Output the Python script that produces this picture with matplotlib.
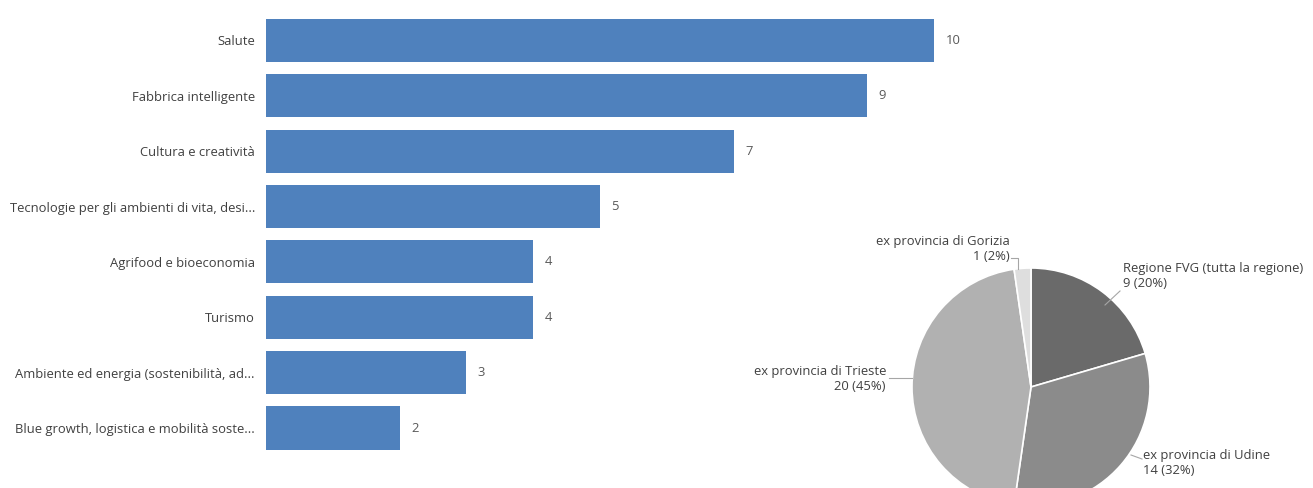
import matplotlib
matplotlib.use("Agg")
import matplotlib.pyplot as plt
import numpy as np

plt.rcParams['font.family'] = ['Open Sans', 'DejaVu Sans']

categories = ["Salute", "Fabbrica intelligente", "Cultura e creatività",
              "Tecnologie per gli ambienti di vita, desi...", "Agrifood e bioeconomia",
              "Turismo", "Ambiente ed energia (sostenibilità, ad...",
              "Blue growth, logistica e mobilità soste..."]
values = [10, 9, 7, 5, 4, 4, 3, 2]

pie_labels = ["Regione FVG (tutta la regione)", "ex provincia di Udine",
              "ex provincia di Trieste", "ex provincia di Gorizia"]
pie_values = [9, 14, 20, 1]
pie_pcts = ["20%", "32%", "45%", "2%"]

W, H = 1313, 488
fig = plt.figure(figsize=(W / 100, H / 100), dpi=100)

fs = 9.4

# Bar chart
ax = fig.add_axes([266 / W, (H - 455.7) / H, 735 / W, 443 / H])
y = np.arange(len(categories))
ax.barh(y, values, height=0.78, color="#4f81bd")
ax.set_xlim(0, 11)
ax.set_ylim(len(categories) - 0.5, -0.5)
ax.set_yticks(y)
ax.set_yticklabels(categories, fontsize=fs, color="#404040")
ax.tick_params(axis='y', length=0, pad=8)
ax.set_xticks([])
for s in ax.spines.values():
    s.set_visible(False)
for yi, v in zip(y, values):
    ax.text(v + 0.17, yi, str(v), va='center', ha='left', fontsize=fs, color="#595959")

# Pie chart
R = 119
cx, cy = 1031, 387
pax = fig.add_axes([(cx - R) / W, (H - cy - R) / H, 2 * R / W, 2 * R / H])
colors = ["#6a6a6a", "#8b8b8b", "#b1b1b1", "#dedede"]
pax.pie(pie_values, colors=colors, startangle=90, counterclock=False,
        wedgeprops=dict(edgecolor="white", linewidth=1.2), radius=1)
pax.set_xlim(-1, 1)
pax.set_ylim(-1, 1)
pax.set_aspect('equal')
pax.axis('off')

lab_color = "#404040"

def p(x, yy):
    return ((x - cx) / R, (cy - yy) / R)

def lab(i, tx, ty, ha, line):
    pax.text(tx, ty, f"{pie_labels[i]}\n{pie_values[i]} ({pie_pcts[i]})", ha=ha, va='center',
             fontsize=fs, color=lab_color, linespacing=1.15, clip_on=False)
    xs, ys = zip(*line)
    pax.plot(xs, ys, color="#a6a6a6", lw=0.8, clip_on=False)

lab(0, *p(1123, 276), 'left', [p(1120, 291), p(1105, 305)])
lab(1, *p(1143, 463), 'left', [p(1142, 459), p(1131, 455)])
lab(2, *p(886, 379), 'right', [p(889, 378), p(912, 378)])
lab(3, *p(1010, 249), 'right', [p(1011, 258), p(1018, 258), p(1018, 269)])

fig.savefig("out.png", dpi=100)
